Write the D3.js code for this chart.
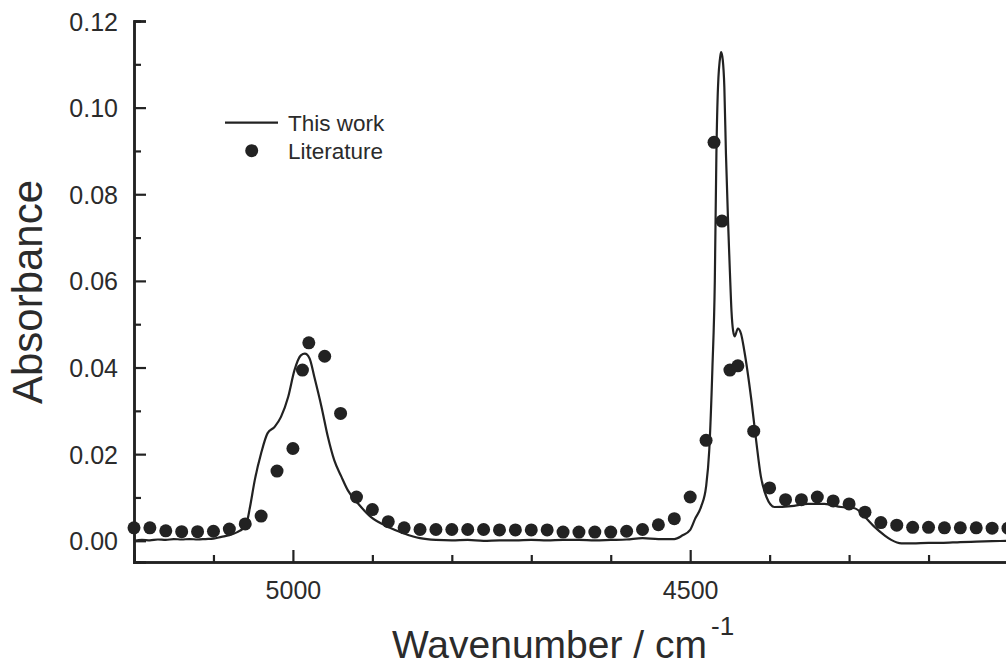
<!DOCTYPE html>
<html>
<head>
<meta charset="utf-8">
<script src="https://cdn.jsdelivr.net/npm/d3@7"></script>
<style>
  html, body { margin: 0; padding: 0; background: #ffffff; }
  svg { display: block; font-family: "Liberation Sans", Arial, sans-serif; }
</style>
</head>
<body>
<svg id="chart" width="1006" height="671"></svg>
<script>
// "This work" spectrum: wavenumber (cm-1) and absorbance
const workWavenumber = [
  5200, 5190, 5180, 5170, 5160, 5150, 5140, 5130, 5120, 5110, 5100, 5090, 5080, 5070,
  5062, 5058, 5054, 5048, 5040, 5032, 5023, 5015, 5006, 4998, 4990, 4985, 4979, 4973,
  4964, 4956, 4948, 4939, 4931, 4918, 4902, 4880, 4860, 4840, 4820, 4800, 4780, 4760,
  4740, 4720, 4700, 4680, 4660, 4640, 4620, 4600, 4580, 4560, 4540, 4520, 4510, 4500,
  4494, 4486, 4480, 4476, 4472, 4469, 4467, 4465, 4462, 4461, 4459, 4457, 4455, 4452,
  4450, 4448, 4446, 4444, 4440, 4436, 4432, 4423, 4417, 4411, 4404, 4394, 4373, 4352,
  4331, 4310, 4293, 4280, 4268, 4255, 4247, 4234, 4220, 4200, 4184, 4160, 4140, 4120, 4100
];
const workAbsorbance = [
  0.0000, 0.0002, 0.0001, 0.0003, 0.0002, 0.0004, 0.0003, 0.0004, 0.0003, 0.0004, 0.0005, 0.0009, 0.0013, 0.0020,
  0.0030, 0.0042, 0.0078, 0.0140, 0.0202, 0.0248, 0.0263, 0.0286, 0.0332, 0.0394, 0.0428, 0.0432, 0.0421, 0.0378,
  0.0309, 0.0240, 0.0186, 0.0148, 0.0117, 0.0086, 0.0055, 0.0032, 0.0017, 0.0006, 0.0002, 0.0001, 0.0002, 0.0000,
  0.0001, 0.0001, 0.0002, 0.0001, 0.0002, 0.0002, 0.0001, 0.0002, 0.0003, 0.0006, 0.0004, 0.0004, 0.0012, 0.0025,
  0.0050, 0.0080, 0.0125, 0.0209, 0.0400, 0.0600, 0.0894, 0.1047, 0.1120, 0.1128, 0.1110, 0.1047, 0.0894, 0.0720,
  0.0620, 0.0530, 0.0485, 0.0472, 0.0490, 0.0478, 0.0440, 0.0325, 0.0232, 0.0148, 0.0101, 0.0078, 0.0080, 0.0085,
  0.0085, 0.0078, 0.0075, 0.0055, 0.0032, 0.0012, 0.0002, -0.0006, -0.0006, -0.0005, -0.0005, -0.0003, -0.0002, -0.0001, 0.0000
];

// "Literature" points
const litWavenumber = [
  5200, 5180, 5160, 5140, 5120, 5100, 5080, 5060, 5040, 5020, 5000, 4988, 4980, 4960, 4940,
  4920, 4900, 4880, 4860, 4840, 4820, 4800, 4780, 4760, 4740, 4720, 4700, 4680, 4660, 4640,
  4620, 4600, 4580, 4560, 4540, 4520, 4500, 4480, 4470, 4460, 4450, 4440, 4420, 4400, 4380,
  4360, 4340, 4320, 4300, 4280, 4260, 4240, 4220, 4200, 4180, 4160, 4140, 4120, 4100
];
const litAbsorbance = [
  0.0030, 0.0030, 0.0023, 0.0021, 0.0021, 0.0022, 0.0027, 0.0039, 0.0057, 0.0161, 0.0213, 0.0394, 0.0457, 0.0426, 0.0294,
  0.0101, 0.0072, 0.0044, 0.0030, 0.0026, 0.0026, 0.0026, 0.0026, 0.0026, 0.0025, 0.0025, 0.0025, 0.0025, 0.0020, 0.0020,
  0.0020, 0.0020, 0.0022, 0.0026, 0.0037, 0.0051, 0.0101, 0.0232, 0.0920, 0.0738, 0.0394, 0.0404, 0.0253, 0.0122, 0.0095,
  0.0095, 0.0101, 0.0092, 0.0085, 0.0066, 0.0042, 0.0036, 0.0031, 0.0031, 0.0030, 0.0030, 0.0030, 0.0029, 0.0029
];

const yMajorTicks = [0.00, 0.02, 0.04, 0.06, 0.08, 0.10, 0.12];
const yMinorTicks = [0.01, 0.03, 0.05, 0.07, 0.09, 0.11];
const xMajorTicks = [5000, 4500];
const xMinorTicks = [5100, 4900, 4800, 4700, 4600, 4400, 4300, 4200, 4100];

const INK = "#222222";

const svg = d3.select("#chart");

// escalas (eje x invertido, como en el original)
const x = d3.scaleLinear().domain([5200, 4100]).range([134, 1008]);
const y = d3.scaleLinear().domain([-0.0049, 0.12]).range([562, 21]);

const work = workWavenumber.map((w, i) => ({ w, a: workAbsorbance[i] }));
const lit = litWavenumber.map((w, i) => ({ w, a: litAbsorbance[i] }));

// ejes con ticks hacia dentro
const yAxisMajor = d3.axisLeft(y).tickValues(yMajorTicks).tickSize(-12).tickPadding(28)
  .tickFormat(d3.format(".2f"));
const yAxisMinor = d3.axisLeft(y).tickValues(yMinorTicks).tickSize(-7).tickFormat("");
const xAxisMajor = d3.axisBottom(x).tickValues(xMajorTicks).tickSize(-12).tickPadding(30)
  .tickFormat(d3.format("d"));
const xAxisMinor = d3.axisBottom(x).tickValues(xMinorTicks).tickSize(-7).tickFormat("");

function styleAxis(g) {
  g.select(".domain").attr("stroke", INK).attr("stroke-width", 2.5);
  g.selectAll(".tick line").attr("stroke", INK).attr("stroke-width", 2.2);
  g.selectAll(".tick text").attr("fill", "#2b2b2b").style("font-size", "25px")
    .style("font-family", "'Liberation Sans', Arial, sans-serif");
}

svg.append("g").attr("transform", "translate(134,0)").call(yAxisMinor).call(styleAxis);
svg.append("g").attr("transform", "translate(134,0)").call(yAxisMajor).call(styleAxis)
  .selectAll(".tick text").attr("x", -16).attr("dy", "0.36em");
svg.append("g").attr("transform", "translate(0,562)").call(xAxisMinor).call(styleAxis);
svg.append("g").attr("transform", "translate(0,562)").call(xAxisMajor).call(styleAxis)
  .selectAll(".tick text").attr("y", 37).attr("dy", 0);

// linea del espectro
const line = d3.line()
  .x(d => x(d.w))
  .y(d => y(d.a))
  .curve(d3.curveMonotoneX);

svg.append("path")
  .datum(work)
  .attr("fill", "none")
  .attr("stroke", INK)
  .attr("stroke-width", 2.2)
  .attr("stroke-linejoin", "round")
  .attr("d", line);

// puntos de literatura
svg.append("g").selectAll("circle")
  .data(lit)
  .join("circle")
  .attr("cx", d => x(d.w))
  .attr("cy", d => y(d.a))
  .attr("r", 6.5)
  .attr("fill", INK);

// titulos de los ejes
svg.append("text")
  .attr("transform", "translate(42,292) rotate(-90)")
  .attr("text-anchor", "middle")
  .attr("fill", "#2b2b2b")
  .style("font-size", "42px")
  .text("Absorbance");

const xTitle = svg.append("text")
  .attr("x", 392).attr("y", 658)
  .attr("fill", "#2b2b2b")
  .style("font-size", "39px");
xTitle.append("tspan").text("Wavenumber / cm");
xTitle.append("tspan").attr("dx", 4).attr("dy", -23).style("font-size", "26px").text("-1");

// leyenda
const legend = svg.append("g");
legend.append("line")
  .attr("x1", 225).attr("x2", 278).attr("y1", 122.7).attr("y2", 122.7)
  .attr("stroke", INK).attr("stroke-width", 2.2);
legend.append("text").attr("x", 288).attr("y", 130.5).attr("fill", "#2b2b2b")
  .style("font-size", "22.5px").text("This work");
legend.append("circle").attr("cx", 251.7).attr("cy", 150.7).attr("r", 6.5).attr("fill", INK);
legend.append("text").attr("x", 288).attr("y", 158.5).attr("fill", "#2b2b2b")
  .style("font-size", "22.5px").text("Literature");
</script>
</body>
</html>
